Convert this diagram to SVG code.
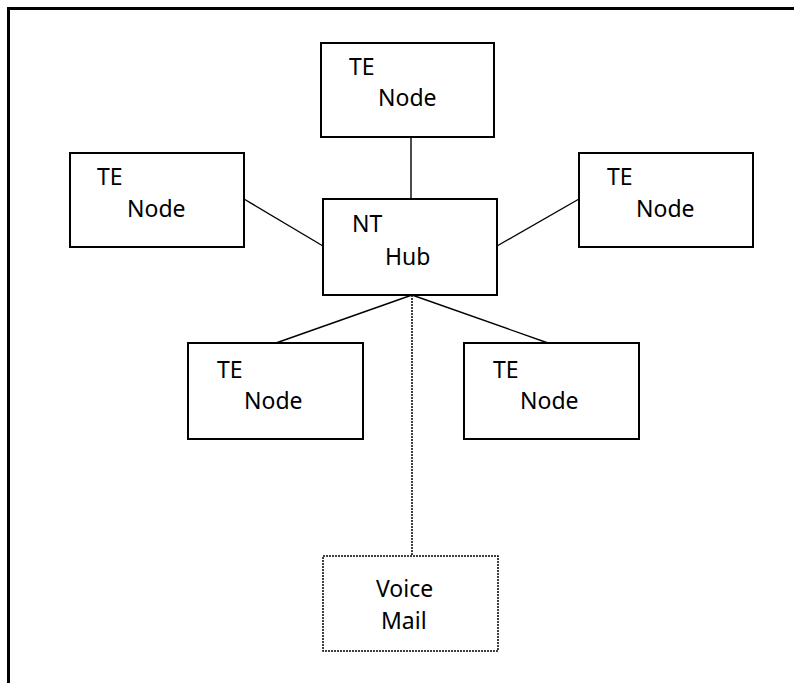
<svg xmlns="http://www.w3.org/2000/svg" width="794" height="683" viewBox="0 0 794 683">
<style>
.box{fill:#fff;stroke:#000;stroke-width:2}
.vm{fill:#fff;stroke:#000;stroke-width:1.5;stroke-dasharray:2,1}
.t{font-family:"Noto Sans","Open Sans",sans-serif;font-size:23px;fill:#000}
.c{stroke:#000;stroke-width:1.4;fill:none}
.d{stroke:#000;stroke-width:1.5;stroke-dasharray:2,1;fill:none}
</style>
<rect width="794" height="683" fill="#fff"/>
<path d="M8.5,683 V8.5 H794" fill="none" stroke="#000" stroke-width="3"/>
<g id="connectors">
<line class="c" x1="411" y1="137" x2="411" y2="199"/>
<line class="c" x1="244" y1="199" x2="323" y2="246"/>
<line class="c" x1="497" y1="246" x2="579" y2="199"/>
<line class="c" x1="412" y1="295" x2="276" y2="343"/>
<line class="c" x1="412" y1="295" x2="548" y2="343"/>
<line class="d" x1="412" y1="295" x2="412" y2="556"/>
</g>
<g id="te-top">
<rect class="box" x="321" y="43" width="173" height="94"/>
<text class="t" x="349" y="75">TE</text>
<text class="t" x="378" y="106">Node</text>
</g>
<g id="te-left">
<rect class="box" x="70" y="153" width="174" height="94"/>
<text class="t" x="97" y="185">TE</text>
<text class="t" x="127" y="217">Node</text>
</g>
<g id="te-right">
<rect class="box" x="579" y="153" width="174" height="94"/>
<text class="t" x="607" y="185">TE</text>
<text class="t" x="636" y="217">Node</text>
</g>
<g id="nt-hub">
<rect class="box" x="323" y="199" width="174" height="96"/>
<text class="t" x="352" y="232">NT</text>
<text class="t" x="385" y="265">Hub</text>
</g>
<g id="te-bottom-left">
<rect class="box" x="188" y="343" width="175" height="96"/>
<text class="t" x="217" y="378">TE</text>
<text class="t" x="244" y="409">Node</text>
</g>
<g id="te-bottom-right">
<rect class="box" x="464" y="343" width="175" height="96"/>
<text class="t" x="493" y="378">TE</text>
<text class="t" x="520" y="409">Node</text>
</g>
<g id="voice-mail">
<rect class="vm" x="323" y="556" width="175" height="95"/>
<text class="t" x="376" y="597">Voice</text>
<text class="t" x="381" y="629">Mail</text>
</g>
</svg>
